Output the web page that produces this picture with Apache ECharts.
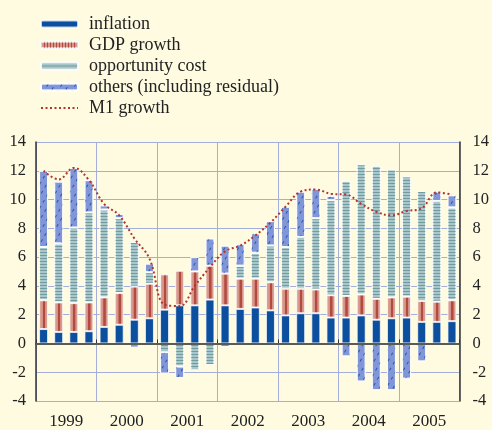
<!DOCTYPE html>
<html>
<head>
<meta charset="utf-8">
<script src="https://cdn.jsdelivr.net/npm/echarts@6/dist/echarts.min.js"></script>
<style>
  html, body { margin: 0; padding: 0; background: #fefbe1; }
  #main { width: 492px; height: 430px; }
</style>
</head>
<body>
<div id="main"></div>
<script>
// quarterly data 1999 Q1 - 2005 Q4
var years = ['1999', '2000', '2001', '2002', '2003', '2004', '2005'];
var quarters = [];
for (var y = 0; y < years.length; y++) {
    for (var q = 1; q <= 4; q++) quarters.push(years[y] + 'Q' + q);
}

var inflation = [1.0, 0.8, 0.8, 0.85, 1.15, 1.3, 1.65, 1.75, 2.35, 2.65, 2.65, 3.05, 2.65, 2.4, 2.5, 2.3,
    1.95, 2.1, 2.1, 1.8, 1.8, 1.95, 1.65, 1.75, 1.8, 1.5, 1.5, 1.55];
var gdpGrowth = [2.0, 2.05, 2.0, 2.0, 2.05, 2.2, 2.3, 2.4, 2.45, 2.4, 2.35, 2.35, 2.2, 2.1, 2.0, 1.95,
    1.85, 1.7, 1.65, 1.55, 1.5, 1.45, 1.45, 1.45, 1.45, 1.45, 1.4, 1.45];
var oppCost = [3.7, 4.1, 5.25, 6.25, 6.1, 5.2, 3.1, 0.8, -0.6, -1.6, -1.85, -1.5, -0.25, 0.9, 1.8, 2.55,
    2.9, 3.6, 4.95, 6.6, 8.0, 9.05, 9.25, 8.9, 8.35, 7.65, 7.0, 6.45];
var others = [5.3, 4.3, 4.15, 2.25, 0.3, 0.3, -0.3, 0.6, -1.5, -0.8, 1.0, 1.9, 1.95, 1.5, 1.35, 1.7,
    2.8, 3.15, 2.05, 0.3, -0.9, -2.65, -3.25, -3.25, -2.45, -1.25, 0.65, 0.85];
var m1Growth = [12.0, 11.4, 12.2, 11.35, 9.7, 8.9, 7.3, 5.9, 2.7, 2.6, 4.0, 5.3, 6.4, 6.8, 7.5, 8.4,
    9.5, 10.55, 10.7, 10.4, 10.35, 9.7, 9.15, 8.9, 9.2, 9.4, 10.5, 10.35];

var serif = "'Liberation Serif', 'DejaVu Serif', serif";
var gridBlue = '#a4aedb';
var axisDark = '#333333';

var chartDom = document.getElementById('main');
var myChart = echarts.init(chartDom);

var gdpFill = new echarts.graphic.LinearGradient(0, 0, 1, 0, [
    { offset: 0, color: '#e2ab9f' },
    { offset: 0.4, color: '#d39083' },
    { offset: 0.45, color: '#b24a40' },
    { offset: 0.65, color: '#b24a40' },
    { offset: 0.7, color: '#d39083' },
    { offset: 1, color: '#e2ab9f' }
]);

var barBorder = { borderColor: 'rgba(255,255,255,0.75)', borderWidth: 1 };

var option = {
    backgroundColor: '#fefbe1',
    animation: false,
    legend: {
        orient: 'vertical',
        left: 35,
        top: 10,
        itemWidth: 37,
        itemHeight: 7,
        itemGap: 3,
        textStyle: { fontFamily: serif, fontSize: 18, color: '#222', padding: [0, 0, 0, 6] },
        data: [
            { name: 'inflation' },
            { name: 'GDP growth', itemStyle: { color: '#d8978a', decal: { symbol: 'rect', symbolSize: 1, dashArrayX: [1, 2], dashArrayY: [1, 0], color: '#b24a40' } } },
            { name: 'opportunity cost' },
            { name: 'others (including residual)' },
            { name: 'M1 growth', itemStyle: { opacity: 0 } }
        ]
    },
    grid: { left: 36, right: 30, top: 142, bottom: 23, containLabel: false },
    xAxis: [
        {
            type: 'category',
            data: years,
            boundaryGap: true,
            position: 'bottom',
            axisLine: { show: true, lineStyle: { color: axisDark, width: 1.5 } },
            axisTick: { show: true, inside: true, length: 4, lineStyle: { color: axisDark } },
            axisLabel: { fontFamily: serif, fontSize: 17, color: '#222', margin: 12 },
            splitLine: { show: true, lineStyle: { color: gridBlue, width: 1 } }
        },
        {
            type: 'category',
            data: quarters,
            show: false
        }
    ],
    yAxis: [
        {
            type: 'value',
            min: -4,
            max: 14,
            interval: 2,
            position: 'left',
            axisLine: { show: true, lineStyle: { color: axisDark, width: 1.5 } },
            axisTick: { show: false },
            axisLabel: { fontFamily: serif, fontSize: 16.5, color: '#222', margin: 10 },
            splitLine: { show: true, lineStyle: { color: gridBlue, width: 1 } }
        },
        {
            type: 'value',
            min: -4,
            max: 14,
            interval: 2,
            position: 'right',
            axisLine: { show: true, lineStyle: { color: axisDark, width: 1.5 } },
            axisTick: { show: false },
            axisLabel: { fontFamily: serif, fontSize: 16.5, color: '#222', margin: 13 },
            splitLine: { show: false }
        }
    ],
    series: [
        {
            name: 'inflation',
            type: 'bar',
            stack: 'm1',
            xAxisIndex: 1,
            barWidth: 9,
            data: inflation,
            itemStyle: Object.assign({ color: '#0c4f9f' }, barBorder),
            markLine: {
                silent: true,
                symbol: 'none',
                label: { show: false },
                lineStyle: { color: '#5b5b55', width: 2, type: 'solid' },
                data: [{ yAxis: 0 }]
            }
        },
        {
            name: 'GDP growth',
            type: 'bar',
            stack: 'm1',
            xAxisIndex: 1,
            barWidth: 9,
            data: gdpGrowth,
            itemStyle: Object.assign({ color: gdpFill }, barBorder)
        },
        {
            name: 'opportunity cost',
            type: 'bar',
            stack: 'm1',
            xAxisIndex: 1,
            barWidth: 9,
            data: oppCost,
            itemStyle: Object.assign({
                color: '#a9c7c8',
                decal: { symbol: 'rect', symbolSize: 1, dashArrayX: [1, 0], dashArrayY: [1, 1.4], color: '#6f9ba1' }
            }, barBorder)
        },
        {
            name: 'others (including residual)',
            type: 'bar',
            stack: 'm1',
            xAxisIndex: 1,
            barWidth: 9,
            data: others,
            itemStyle: Object.assign({
                color: '#8196d6',
                decal: { symbol: 'rect', symbolSize: 1, rotation: -Math.PI / 3, dashArrayX: [3, 4], dashArrayY: [1, 5], color: '#2a54ae' }
            }, barBorder)
        },
        {
            name: 'M1 growth',
            type: 'line',
            xAxisIndex: 1,
            data: m1Growth,
            smooth: 0.4,
            symbol: 'none',
            z: 5,
            itemStyle: { color: '#b3342c' },
            lineStyle: { color: '#b3342c', width: 2, type: [2, 2.5] }
        }
    ]
};

option && myChart.setOption(option);
</script>
</body>
</html>
